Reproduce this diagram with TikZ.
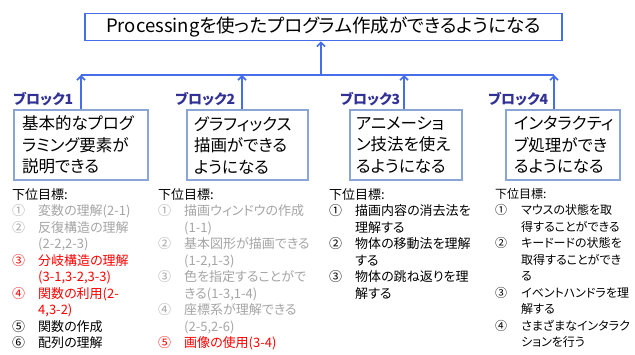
\documentclass[tikz,border=0pt]{standalone}
\usepackage{fontspec}
\setmainfont{Noto Sans CJK JP}[RawFeature=+palt]
\usetikzlibrary{arrows.meta}
\definecolor{connblue}{RGB}{70,110,235}
\definecolor{goalblue}{RGB}{70,110,230}
\definecolor{boxblue}{RGB}{140,165,215}
\definecolor{lblue}{RGB}{50,50,150}
\definecolor{subgray}{RGB}{165,165,165}
\definecolor{subred}{RGB}{255,0,0}
\newcommand\itm[2]{\makebox[26pt][l]{#1}#2}
\newcommand\cont[1]{\hspace*{26pt}#1}
\begin{document}
\begin{tikzpicture}[x=1pt,y=-1pt,
  conn/.style={draw=connblue,line width=1.6pt},
  arr/.style={conn,-{Straight Barb[length=4pt,width=8pt]}},
  goalbox/.style={draw=goalblue,line width=1.8pt,minimum width=477pt,minimum height=27pt,inner sep=0pt,font=\fontsize{18.5}{21}\selectfont},
  blockbox/.style={draw=boxblue,line width=1.1pt,minimum height=70pt,align=left,font=\fontsize{16.5}{21.5}\selectfont,inner ysep=0pt},
  blabel/.style={text=lblue,font=\fontsize{14}{16}\selectfont\bfseries,anchor=west,inner sep=0pt},
  sublist/.style={anchor=north west,align=left,inner sep=0pt,font=\fontsize{13}{16.5}\selectfont}
]
\useasboundingbox[fill=white] (0,0) rectangle (635,355);

\node[goalbox] (goal) at (323.5,27) {Processingを使ったプログラム作成ができるようになる};

\node[blockbox,inner xsep=8pt,text width=118pt] (b1) at (81,145) {基本的なプログ\\ラミング要素が\\説明できる};
\node[blockbox,inner xsep=7pt,text width=107pt] (b2) at (247.5,145) {グラフィックス\\描画ができる\\ようになる};
\node[blockbox,inner xsep=6pt,text width=100pt] (b3) at (406,145) {アニメーショ\\ン技法を使え\\るようになる};
\node[blockbox,inner xsep=8pt,text width=98pt] (b4) at (563,145) {インタラクティ\\ブ処理ができ\\るようになる};

\node[blabel] (l1) at (13,99) {ブロック1};
\node[blabel] (l2) at (175,99) {ブロック2};
\node[blabel] (l3) at (340,99) {ブロック3};
\node[blabel] (l4) at (488,99) {ブロック4};

\coordinate (h1) at (81,75);
\coordinate (h2) at (242,75);
\coordinate (h3) at (404,75);
\coordinate (h4) at (554,75);
\coordinate (hc) at (321,75);
\draw[conn] (h1) -- (h4);
\draw[arr] (hc) -- (hc |- goal.south);
\draw[arr] (h1 |- b1.north) -- (h1);
\draw[arr] (h2 |- b2.north) -- (h2);
\draw[arr] (h3 |- b3.north) -- (h3);
\draw[arr] (h4 |- b4.north) -- (h4);

\node[sublist] (s1) at (12,188) {下位目標:\\
{\color{subgray}\itm{①}{変数の理解(2-1)}}\\
{\color{subgray}\itm{②}{反復構造の理解}}\\
{\color{subgray}\cont{(2-2,2-3)}}\\
{\color{subred}\itm{③}{分岐構造の理解}}\\
{\color{subred}\cont{(3-1,3-2,3-3)}}\\
{\color{subred}\itm{④}{関数の利用(2-}}\\
{\color{subred}\cont{4,3-2)}}\\
\itm{⑤}{関数の作成}\\
\itm{⑥}{配列の理解}};

\node[sublist] (s2) at (158,188) {下位目標:\\
{\color{subgray}\itm{①}{描画ウィンドウの作成}}\\
{\color{subgray}\cont{(1-1)}}\\
{\color{subgray}\itm{②}{基本図形が描画できる}}\\
{\color{subgray}\cont{(1-2,1-3)}}\\
{\color{subgray}\itm{③}{色を指定することがで}}\\
{\color{subgray}\cont{きる(1-3,1-4)}}\\
{\color{subgray}\itm{④}{座標系が理解できる}}\\
{\color{subgray}\cont{(2-5,2-6)}}\\
{\color{subred}\itm{⑤}{画像の使用(3-4)}}};

\node[sublist] (s3) at (329,188) {下位目標:\\
\itm{①}{描画内容の消去法を}\\
\cont{理解する}\\
\itm{②}{物体の移動法を理解}\\
\cont{する}\\
\itm{③}{物体の跳ね返りを理}\\
\cont{解する}};

\node[sublist,font=\fontsize{12}{16.5}\selectfont] (s4) at (495,188) {下位目標:\\
\itm{①}{マウスの状態を取}\\
\cont{得することができる}\\
\itm{②}{キードードの状態を}\\
\cont{取得することができ}\\
\cont{る}\\
\itm{③}{イベントハンドラを理}\\
\cont{解する}\\
\itm{④}{さまざまなインタラク}\\
\cont{ションを行う}};
\end{tikzpicture}
\end{document}
